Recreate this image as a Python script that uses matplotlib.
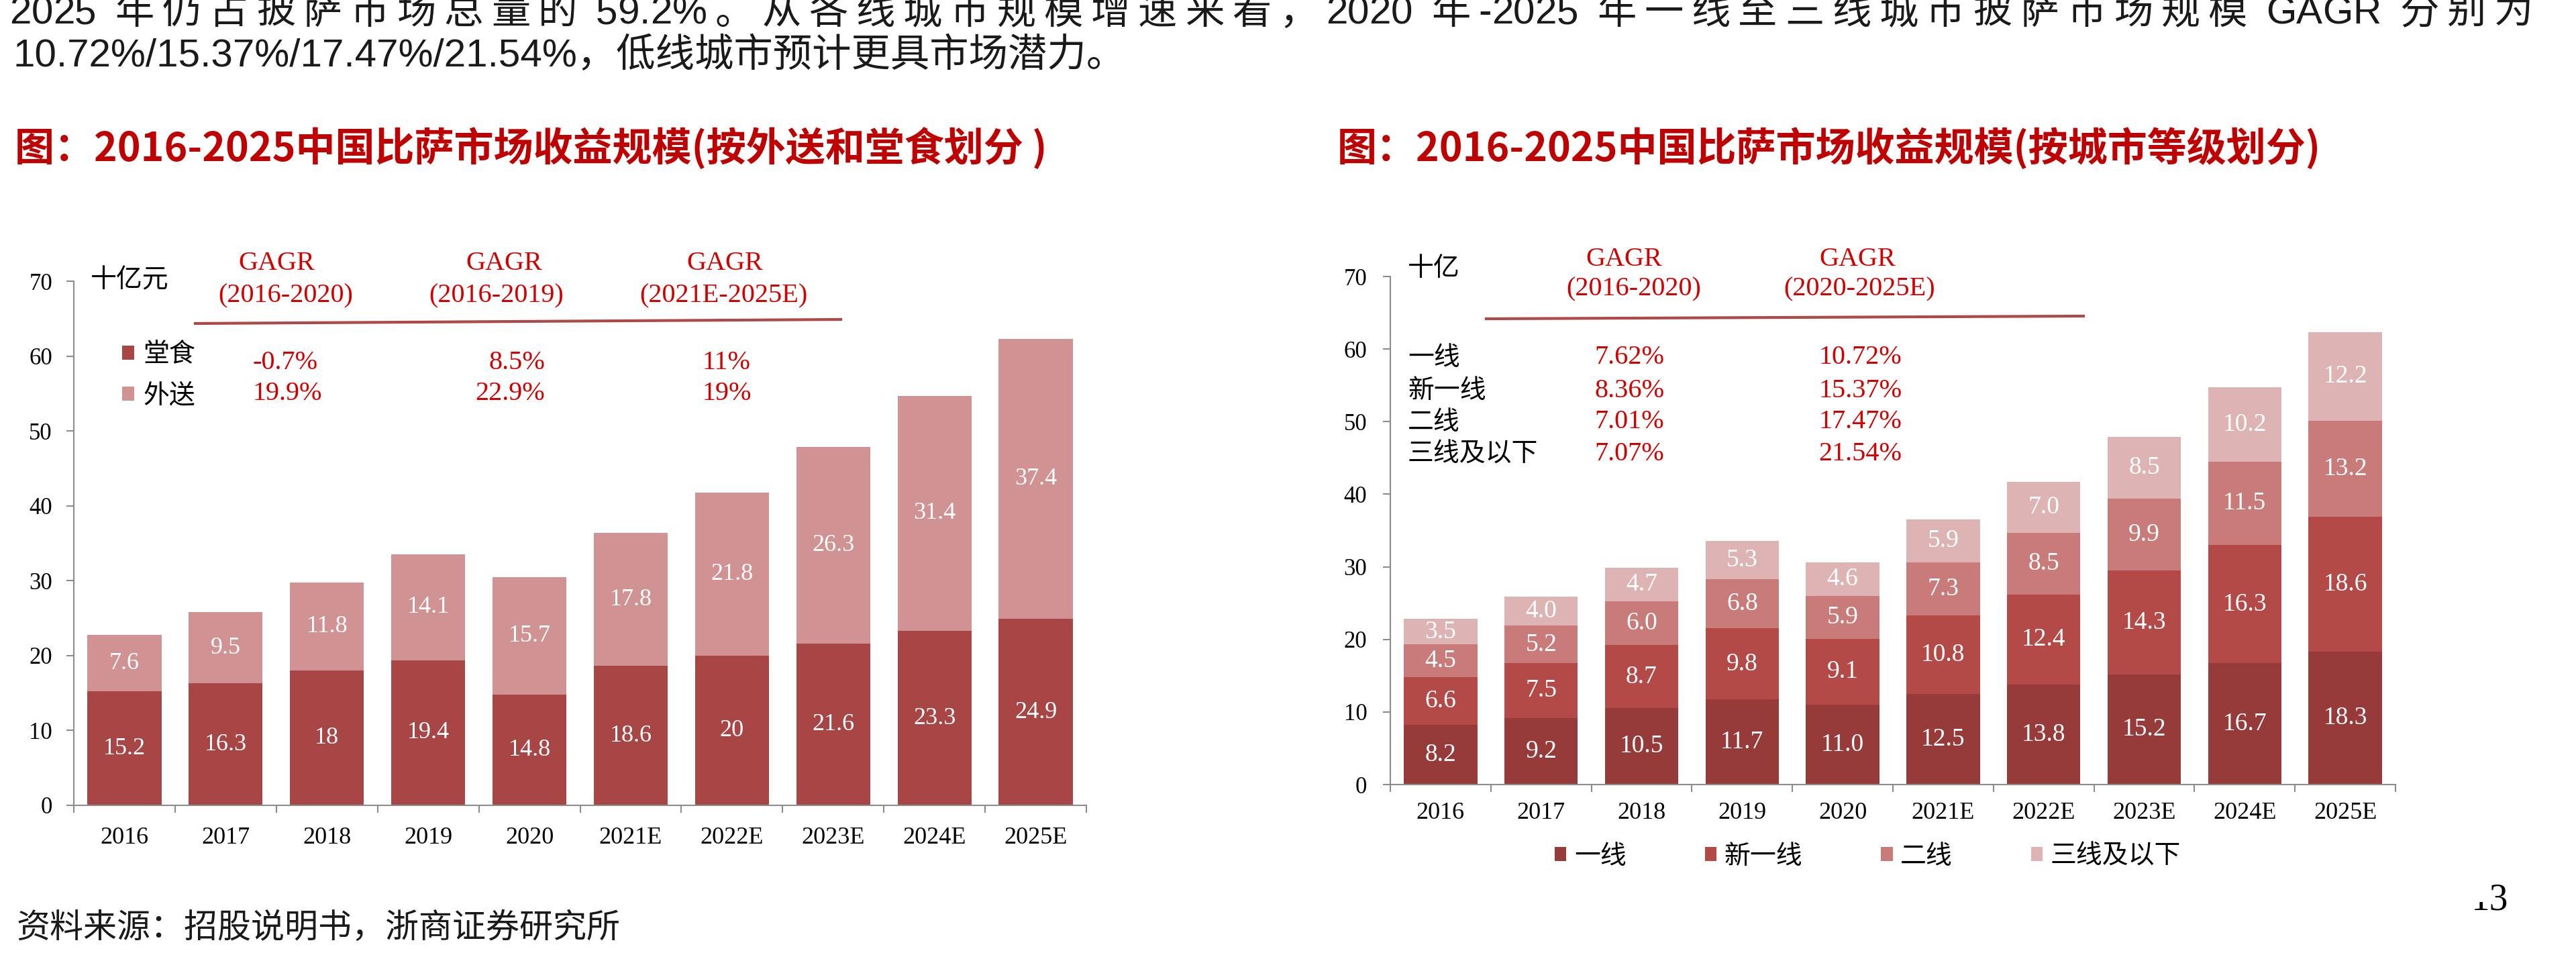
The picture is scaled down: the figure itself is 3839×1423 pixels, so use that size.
import numpy as np
import matplotlib
matplotlib.use("Agg")
import matplotlib.pyplot as plt
from matplotlib.lines import Line2D
from matplotlib.patches import Rectangle

W, H = 3839, 1423
DPI = 100

#%% data
years = ["2016", "2017", "2018", "2019", "2020", "2021E", "2022E", "2023E", "2024E", "2025E"]

# left chart: 堂食 / 外送, 十亿元
dine_in = [15.2, 16.3, 18, 19.4, 14.8, 18.6, 20, 21.6, 23.3, 24.9]
delivery = [7.6, 9.5, 11.8, 14.1, 15.7, 17.8, 21.8, 26.3, 31.4, 37.4]
left_names = ["堂食", "外送"]
left_periods = ["(2016-2020)", "(2016-2019)", "(2021E-2025E)"]
left_gagr_dine = ["-0.7%", "8.5%", "11%"]
left_gagr_deliv = ["19.9%", "22.9%", "19%"]

# right chart: by city tier, 十亿
tier1 = [8.2, 9.2, 10.5, 11.7, 11.0, 12.5, 13.8, 15.2, 16.7, 18.3]
new_tier1 = [6.6, 7.5, 8.7, 9.8, 9.1, 10.8, 12.4, 14.3, 16.3, 18.6]
tier2 = [4.5, 5.2, 6.0, 6.8, 5.9, 7.3, 8.5, 9.9, 11.5, 13.2]
tier3 = [3.5, 4.0, 4.7, 5.3, 4.6, 5.9, 7.0, 8.5, 10.2, 12.2]
tier_names = ["一线", "新一线", "二线", "三线及以下"]
right_periods = ["(2016-2020)", "(2020-2025E)"]
gagr_16_20 = ["7.62%", "8.36%", "7.01%", "7.07%"]
gagr_20_25 = ["10.72%", "15.37%", "17.47%", "21.54%"]

line1 = "2025 年仍占披萨市场总量的 59.2%。从各线城市规模增速来看，2020 年-2025 年一线至三线城市披萨市场规模 GAGR 分别为"
line2 = "10.72%/15.37%/17.47%/21.54%，低线城市预计更具市场潜力。"
title_left = "图：2016-2025中国比萨市场收益规模(按外送和堂食划分 )"
title_right = "图：2016-2025中国比萨市场收益规模(按城市等级划分)"
source = "资料来源：招股说明书，浙商证券研究所"

#%% style
SERIF = ["Liberation Serif", "Noto Sans CJK SC"]
SANS = ["Liberation Sans", "Noto Sans CJK SC"]
CJK = ["Noto Sans CJK SC"]
plt.rcParams["font.family"] = SERIF

RED = "#D40000"
TITLE_RED = "#C00000"
AXIS_GRAY = "#8c8c8c"
left_colors = ["#A84646", "#D09292"]
tier_colors = ["#963A3A", "#B34A48", "#C97B7A", "#DDB4B3"]


def fx(px):
    return px / W


def fy(py):
    return 1 - py / H


def style_axis(ax, xpad, ypad):
    ax.set_xlim(-0.5, 9.5)
    ax.set_ylim(0, 70)
    for s in ["top", "right"]:
        ax.spines[s].set_visible(False)
    for s in ["left", "bottom"]:
        ax.spines[s].set_color(AXIS_GRAY)
        ax.spines[s].set_linewidth(1.5)
    ax.set_yticks(range(0, 71, 10))
    ax.set_xticks(np.arange(len(years)))
    ax.set_xticklabels(years)
    ax.set_xticks(np.arange(-0.5, len(years), 1), minor=True)
    ax.tick_params(axis="x", which="major", length=0, pad=xpad, labelsize=26)
    ax.tick_params(axis="x", which="minor", length=8, width=1.5, color=AXIS_GRAY)
    ax.tick_params(axis="y", length=8, width=1.5, color=AXIS_GRAY, pad=ypad, labelsize=25)


fig = plt.figure(figsize=(W / DPI, H / DPI), dpi=DPI)
fig.patch.set_facecolor("white")
x = np.arange(len(years))

#%% left chart
axL = fig.add_axes([fx(110), fy(1200), (1619 - 110) / W, (1200 - 419) / H])
b1 = axL.bar(x, dine_in, 0.73, color=left_colors[0], label=left_names[0])
b2 = axL.bar(x, delivery, 0.73, bottom=dine_in, color=left_colors[1], label=left_names[1])
axL.bar_label(b1, labels=[f"{v:g}" for v in dine_in], label_type="center", color="white", fontsize=26)
axL.bar_label(b2, labels=[f"{v:g}" for v in delivery], label_type="center", color="white", fontsize=26)
style_axis(axL, 23, 15)
axL.legend(loc="upper left", bbox_to_anchor=(0.048, 0.886), frameon=False,
           prop={"family": CJK, "size": 28}, handlelength=0.45, handleheight=0.45,
           handletextpad=0.35, labelspacing=0.55, borderpad=0, borderaxespad=0)
fig.text(fx(135), fy(417), "十亿元", family=CJK, fontsize=28, va="center", ha="left")

# GAGR block (left)
for cx, cx2, per in zip([412, 751, 1080], [426, 740, 1078], left_periods):
    fig.text(fx(cx), fy(393), "GAGR", color=RED, fontsize=29, ha="center", va="center")
    fig.text(fx(cx2), fy(441), per, color=RED, fontsize=29, ha="center", va="center")
fig.add_artist(Line2D([fx(291), fx(1253)], [fy(482), fy(476)], color="#B04848", lw=3))
for (ax_x, ha), v1, v2 in zip([(376, "left"), (812, "right"), (1046, "left")],
                              left_gagr_dine, left_gagr_deliv):
    fig.text(fx(ax_x), fy(540), v1, color=RED, fontsize=29, ha=ha, va="center")
    fig.text(fx(ax_x), fy(586), v2, color=RED, fontsize=29, ha=ha, va="center")

#%% right chart
axR = fig.add_axes([fx(2072), fy(1169), (3570 - 2072) / W, (1169 - 412) / H])
bottom = np.zeros(len(years))
for vals, name, col in zip([tier1, new_tier1, tier2, tier3], tier_names, tier_colors):
    bars = axR.bar(x, vals, 0.73, bottom=bottom, color=col, label=name)
    axR.bar_label(bars, labels=[f"{v:.1f}" for v in vals], label_type="center",
                  color="white", fontsize=27)
    bottom = bottom + np.array(vals)
style_axis(axR, 19, 17)
axR.legend(loc="center", bbox_to_anchor=(0.475, -0.141), ncol=4, frameon=False,
           prop={"family": CJK, "size": 28}, handlelength=0.45, handleheight=0.45,
           handletextpad=0.3, columnspacing=3.0, borderpad=0, borderaxespad=0)
fig.text(fx(2098), fy(400), "十亿", family=CJK, fontsize=28, va="center", ha="left")

for cx, cx2, per in zip([2420, 2768], [2435, 2771], right_periods):
    fig.text(fx(cx), fy(386), "GAGR", color=RED, fontsize=29, ha="center", va="center")
    fig.text(fx(cx2), fy(431), per, color=RED, fontsize=29, ha="center", va="center")
fig.add_artist(Line2D([fx(2215), fx(3105)], [fy(475), fy(471)], color="#B04848", lw=3))
for ry, name, v1, v2 in zip([533, 582, 629, 677], tier_names, gagr_16_20, gagr_20_25):
    fig.text(fx(2098), fy(ry), name, family=CJK, fontsize=28, ha="left", va="center")
    fig.text(fx(2376), fy(ry), v1, color=RED, fontsize=29, ha="left", va="center")
    fig.text(fx(2710), fy(ry), v2, color=RED, fontsize=29, ha="left", va="center")

#%% page text
fig.text(fx(22), fy(222), title_left, family=CJK, fontsize=42.5, weight="bold",
         color=TITLE_RED, ha="left", va="center")
fig.text(fx(1993), fy(222), title_right, family=CJK, fontsize=42.5, weight="bold",
         color=TITLE_RED, ha="left", va="center")
fig.text(fx(20), fy(83), line2, family=SANS, fontsize=42, color="#1a1a1a", ha="left", va="center")
fig.text(fx(25), fy(1383), source, family=CJK, fontsize=36, color="#1a1a1a", ha="left", va="center")

# first line is justified across the page width; extra space only next to CJK chars
renderer = fig.canvas.get_renderer()
widths = []
for ch in line1:
    t = fig.text(0, 0, ch, family=SANS, fontsize=42)
    widths.append(t.get_window_extent(renderer).width)
    t.remove()
stretch = [1 if (not a.isascii() or not b.isascii()) else 0 for a, b in zip(line1[:-1], line1[1:])]
gap = (3775 - 14 - sum(widths)) / sum(stretch)
px = 14
for i, (ch, w) in enumerate(zip(line1, widths)):
    fig.text(fx(px), fy(20), ch, family=SANS, fontsize=42, color="#1a1a1a", ha="left", va="center")
    px += w + (gap * stretch[i] if i < len(stretch) else 0)

# page number, top of the "1" is clipped in the source page
fig.text(fx(3710), fy(1356), "13", family=SERIF, fontsize=40, ha="center", va="baseline")
fig.add_artist(Rectangle((fx(3675), fy(1344)), fx(3709) - fx(3675), fy(1295) - fy(1344),
                         transform=fig.transFigure, facecolor="white", edgecolor="none",
                         zorder=10))

fig.savefig("out.png", dpi=DPI)
